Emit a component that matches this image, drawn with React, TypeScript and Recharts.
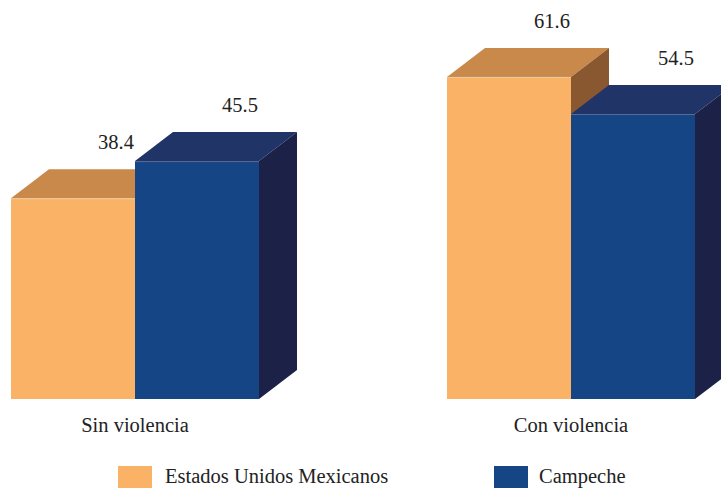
import React from 'react';
import { BarChart, Bar, XAxis, YAxis } from 'recharts';

const categories = ['Sin violencia', 'Con violencia'];
const nacional = [38.4, 61.6];
const campeche = [45.5, 54.5];
const seriesNames = ['Estados Unidos Mexicanos', 'Campeche'];

const data = categories.map((c, i) => ({ name: c, nacional: nacional[i], campeche: campeche[i] }));

const FONT = 'Liberation Serif, Tinos, Times New Roman, Times, DejaVu Serif, Noto Serif, serif';
const TEXT = '#222222';
const DX = 38;
const DY = 29;

const palette = {
  nacional: { front: '#FAB366', top: '#C8894A', side: '#8A5830', edge: '#EACBA5' },
  campeche: { front: '#154584', top: '#203468', side: '#1C2148', edge: '#5A6C98' },
};

const makeShape = (key: 'nacional' | 'campeche') => (props: any) => {
  const { x, y, width: w, height: h, value } = props;
  const c = palette[key];
  const v = Array.isArray(value) ? value[1] : value;
  return (
    <g>
      <rect x={x} y={y} width={w} height={h} fill={c.front} />
      <polygon
        points={`${x},${y} ${x + DX},${y - DY} ${x + w + DX},${y - DY} ${x + w},${y}`}
        fill={c.top}
      />
      <polygon
        points={`${x + w},${y} ${x + w + DX},${y - DY} ${x + w + DX},${y + h - DY} ${x + w},${y + h}`}
        fill={c.side}
      />
      <line x1={x} y1={y + 0.5} x2={x + w} y2={y + 0.5} stroke={c.edge} strokeWidth={1} />
      <text
        x={x + w / 2 + 43}
        y={y - 49}
        textAnchor="middle"
        style={{ fontFamily: FONT, fontSize: 20.5 }}
        fill={TEXT}
      >
        {v}
      </text>
    </g>
  );
};

const CatTick = (props: any) => {
  const { x, y, payload } = props;
  return (
    <text x={x} y={y + 25} textAnchor="middle" style={{ fontFamily: FONT, fontSize: 20.5 }} fill={TEXT}>
      {payload.value}
    </text>
  );
};

export default function App() {
  return (
    <div
      style={{
        position: 'absolute',
        left: 0,
        top: 0,
        width: 721,
        height: 490,
        overflow: 'hidden',
        background: '#ffffff',
      }}
    >
      <BarChart
        width={872}
        height={490}
        data={data}
        margin={{ top: 33, right: 0, bottom: 61, left: 0 }}
        barCategoryGap={94}
        barGap={0}
        style={{ position: 'absolute', left: -83, top: 0 }}
      >
        <XAxis
          dataKey="name"
          axisLine={false}
          tickLine={false}
          height={30}
          tick={<CatTick />}
          interval={0}
        />
        <YAxis hide domain={[0, 70]} />
        <Bar dataKey="nacional" isAnimationActive={false} shape={makeShape('nacional')} />
        <Bar dataKey="campeche" isAnimationActive={false} shape={makeShape('campeche')} />
      </BarChart>
      <div
        style={{
          position: 'absolute',
          left: 118,
          top: 466,
          width: 34,
          height: 22,
          background: palette.nacional.front,
        }}
      />
      <div
        style={{
          position: 'absolute',
          left: 165,
          top: 462,
          fontFamily: FONT,
          fontSize: 20.5,
          color: TEXT,
          whiteSpace: 'nowrap',
          lineHeight: '28px',
        }}
      >
        {seriesNames[0]}
      </div>
      <div
        style={{
          position: 'absolute',
          left: 494,
          top: 466,
          width: 34,
          height: 22,
          background: palette.campeche.front,
        }}
      />
      <div
        style={{
          position: 'absolute',
          left: 539,
          top: 462,
          fontFamily: FONT,
          fontSize: 20.5,
          color: TEXT,
          whiteSpace: 'nowrap',
          lineHeight: '28px',
        }}
      >
        {seriesNames[1]}
      </div>
    </div>
  );
}
